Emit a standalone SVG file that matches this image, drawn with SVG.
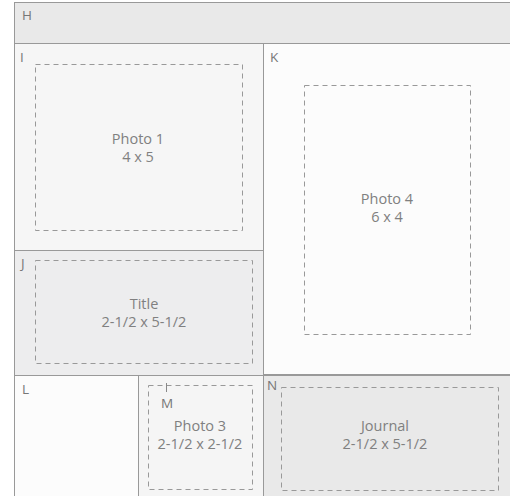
<svg xmlns="http://www.w3.org/2000/svg" width="510" height="496" viewBox="0 0 510 496">
<style>
.r{stroke:#999;stroke-width:1}
.d{fill:none;stroke:#999;stroke-width:1;stroke-dasharray:5,4}
.l{font-family:"Open Sans","Noto Sans",sans-serif;font-size:13.5px;fill:#777}
.t{font-family:"Open Sans","Noto Sans",sans-serif;font-size:14.5px;fill:#808080;text-anchor:middle}
</style>
<rect width="510" height="496" fill="#fff"/>
<g id="H"><rect class="r" x="14.5" y="2.5" width="500" height="41" fill="#e9e9e9"/><text class="l" x="22" y="20">H</text></g>
<g id="I"><rect class="r" x="14.5" y="43.5" width="249" height="207" fill="#f6f6f6"/><text class="l" x="20" y="62">I</text>
<rect class="d" x="35.5" y="64.5" width="207" height="166"/>
<text class="t" x="138" y="144">Photo 1</text><text class="t" x="138" y="162">4 x 5</text></g>
<g id="K"><rect class="r" x="263.5" y="43.5" width="251" height="331" fill="#fcfcfc"/><text class="l" x="270" y="62">K</text>
<rect class="d" x="304.5" y="85.5" width="166" height="249"/>
<text class="t" x="387" y="204">Photo 4</text><text class="t" x="387" y="222">6 x 4</text></g>
<g id="J"><rect class="r" x="14.5" y="250.5" width="249" height="125" fill="#ededee"/><text class="l" x="21" y="268">J</text>
<rect class="d" x="35.5" y="260.5" width="217" height="103"/>
<text class="t" x="144" y="309">Title</text><text class="t" x="144" y="327">2-1/2 x 5-1/2</text></g>
<g id="L"><rect class="r" x="14.5" y="375.5" width="124" height="125" fill="#fcfcfc"/><text class="l" x="22" y="394">L</text></g>
<g id="M"><rect class="r" x="138.5" y="375.5" width="125" height="125" fill="#f5f5f5"/>
<rect class="d" x="148.5" y="385.5" width="104" height="104"/>
<line x1="166.5" y1="383" x2="166.5" y2="392" stroke="#888"/>
<text class="l" x="161" y="408">M</text>
<text class="t" x="200" y="431">Photo 3</text><text class="t" x="200" y="449">2-1/2 x 2-1/2</text></g>
<g id="N"><rect class="r" x="263.5" y="375.5" width="251" height="125" fill="#e9e9e9"/><text class="l" x="267" y="390">N</text>
<rect class="d" x="281.5" y="387.5" width="217" height="103"/>
<text class="t" x="385" y="431">Journal</text><text class="t" x="385" y="449">2-1/2 x 5-1/2</text></g>
<g id="connectors"/>
</svg>
